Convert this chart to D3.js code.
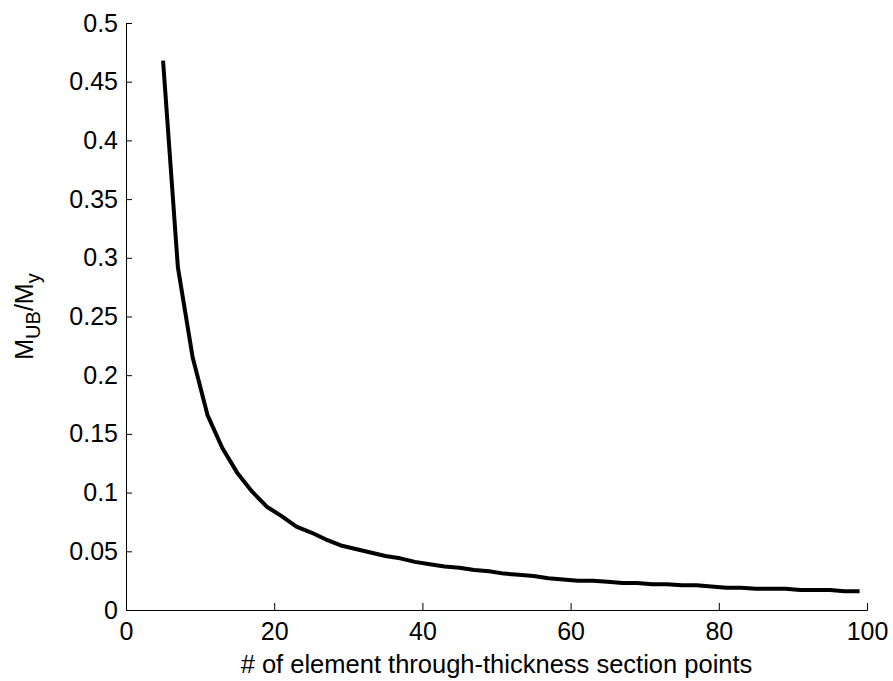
<!DOCTYPE html>
<html><head><meta charset="utf-8">
<script src="https://cdn.jsdelivr.net/npm/d3@7"></script>
<style>body{margin:0;background:#fff;}svg text{font-family:"Liberation Sans",Arial,sans-serif;fill:#000;}</style>
</head><body>
<svg id="c" width="893" height="681"></svg>
<script>
const nPoints = [5,7,9,11,13,15,17,19,21,23,25,27,29,31,33,35,37,39,41,43,45,47,49,51,53,55,57,59,61,63,65,67,69,71,73,75,77,79,81,83,85,87,89,91,93,95,97,99];
const ratio = [0.468,0.292,0.215,0.166,0.138,0.117,0.101,0.088,0.080,0.071,0.066,0.060,0.055,0.052,0.049,0.046,0.044,0.041,0.039,0.037,0.036,0.034,0.033,0.031,0.030,0.029,0.027,0.026,0.025,0.025,0.024,0.023,0.023,0.022,0.022,0.021,0.021,0.020,0.019,0.019,0.018,0.018,0.018,0.017,0.017,0.017,0.016,0.016];
const xTicks = [0,20,40,60,80,100];
const yTicks = [0,0.05,0.1,0.15,0.2,0.25,0.3,0.35,0.4,0.45,0.5];
const xLabel = "# of element through-thickness section points";

const svg = d3.select("#c");
const L = 126, R = 867, T = 23, B = 610;
const FS = 25;
const x = d3.scaleLinear().domain([0,100]).range([L,R]);
const y = d3.scaleLinear().domain([0,0.5]).range([B,T]);

const xa = svg.append("g").attr("transform",`translate(0,${B})`)
  .call(d3.axisBottom(x).tickValues(xTicks).tickSize(-7).tickSizeOuter(-7).tickPadding(12).tickFormat(d3.format("d")));
const ya = svg.append("g").attr("transform",`translate(${L},0)`)
  .call(d3.axisLeft(y).tickValues(yTicks).tickSize(-6).tickSizeOuter(-6).tickPadding(8).tickFormat(d=>String(d)));
[xa,ya].forEach(g=>{
  g.selectAll("path,line").attr("stroke","#000").attr("stroke-width",1);
  g.selectAll("text").attr("font-size",FS).attr("fill","#000");
});

svg.append("text").attr("x",(L+R)/2).attr("y",673).attr("text-anchor","middle")
  .attr("font-size",25.5).text(xLabel);

const yl = svg.append("text").attr("transform",`translate(33,${(T+B)/2}) rotate(-90)`)
  .attr("text-anchor","middle").attr("font-size",FS);
yl.append("tspan").text("M");
yl.append("tspan").attr("font-size",20).attr("dy",7).text("UB");
yl.append("tspan").attr("dy",-7).text("/M");
yl.append("tspan").attr("font-size",20).attr("dy",7).text("y");

const line = d3.line().x((d,i)=>x(nPoints[i])).y(d=>y(d));
svg.append("path").datum(ratio).attr("d",line).attr("fill","none")
  .attr("stroke","#000").attr("stroke-width",4).attr("stroke-linejoin","round");
</script>
</body></html>
